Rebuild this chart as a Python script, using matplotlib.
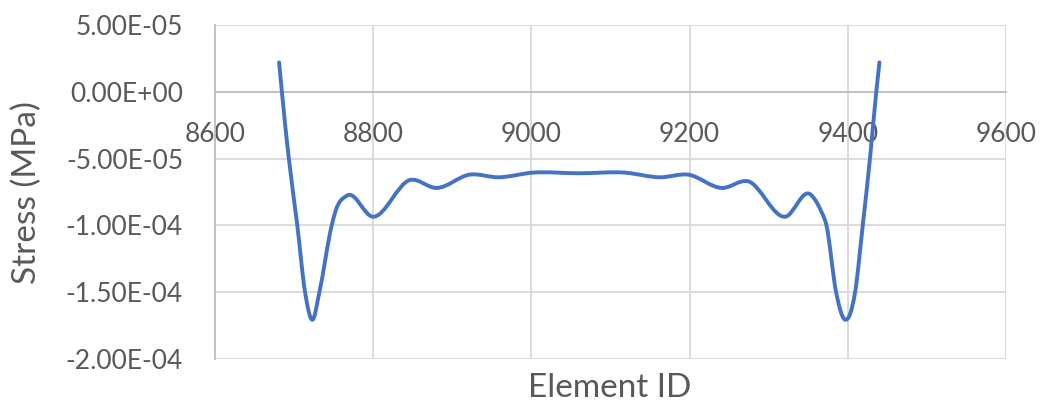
import numpy as np
import matplotlib
matplotlib.use("Agg")
import matplotlib.pyplot as plt
from matplotlib.path import Path
from matplotlib.patches import PathPatch

# values
element_id = [8681, 8684.5, 8693.3, 8704, 8713.8, 8723.5, 8731.9, 8747.5, 8752.5, 8766.5,
              8799.4, 8846.6, 8880, 8922, 8958, 9002, 9060, 9118, 9163, 9198,
              9241, 9274, 9321, 9353.2, 9366, 9373, 9385.2, 9396.6, 9409.2, 9418.9,
              9428, 9436, 9440]
stress = [2.2e-5, 0.0, -5.0e-5, -1.0e-4, -1.5e-4, -1.706e-4, -1.5e-4, -1.0e-4, -8.9e-5, -7.78e-5,
          -9.35e-5, -6.6e-5, -7.2e-5, -6.2e-5, -6.4e-5, -6.05e-5, -6.1e-5, -6.05e-5, -6.4e-5, -6.2e-5,
          -7.2e-5, -6.7e-5, -9.35e-5, -7.7e-5, -8.9e-5, -1.0e-4, -1.5e-4, -1.706e-4, -1.5e-4, -1.0e-4,
          -5.0e-5, 0.0, 2.2e-5]

x_ticks = [8600, 8800, 9000, 9200, 9400, 9600]
y_ticks = [5e-5, 0, -5e-5, -1e-4, -1.5e-4, -2e-4]
y_tick_labels = ['5.00E-05', '0.00E+00', '-5.00E-05', '-1.00E-04', '-1.50E-04', '-2.00E-04']

text_col = '#595959'
plt.rcParams['font.family'] = ['Lato', 'DejaVu Sans']

fig = plt.figure(figsize=(10.49, 4.05), dpi=100)
ax = fig.add_axes([0.205, 0.1136, 0.754, 0.8247])
ax.set_xlim(8600, 9600)
ax.set_ylim(-2e-4, 5e-5)


# smoothed line like Excel: cubic hermite (as bezier) through the points
def smooth_path(xs, ys):
    x = np.asarray(xs, float)
    y = np.asarray(ys, float)
    h = np.diff(x)
    s = np.diff(y) / h
    m = np.empty_like(x)
    m[0] = s[0]
    m[-1] = s[-1]
    m[1:-1] = (h[1:] * s[:-1] + h[:-1] * s[1:]) / (h[:-1] + h[1:])
    verts = [(x[0], y[0])]
    codes = [Path.MOVETO]
    for i in range(len(x) - 1):
        d = h[i] / 3.0
        verts += [(x[i] + d, y[i] + m[i] * d),
                  (x[i + 1] - d, y[i + 1] - m[i + 1] * d),
                  (x[i + 1], y[i + 1])]
        codes += [Path.CURVE4] * 3
    return Path(verts, codes)


patch = PathPatch(smooth_path(element_id, stress), facecolor='none',
                  edgecolor='#4472C4', lw=2.8, capstyle='round', joinstyle='round', zorder=3)
ax.add_patch(patch)

ax.set_xticks(x_ticks)
ax.set_yticks(y_ticks)
ax.set_yticklabels(y_tick_labels)
ax.grid(True, color='#d9d9d9', lw=1.3)
ax.set_axisbelow(True)

for s in ['top', 'right']:
    ax.spines[s].set_visible(False)
ax.spines['left'].set_color('#bfbfbf')
ax.spines['left'].set_linewidth(1.3)
ax.spines['bottom'].set_position(('data', 0))
ax.spines['bottom'].set_color('#bfbfbf')
ax.spines['bottom'].set_linewidth(1.3)

ax.tick_params(axis='both', length=0, labelsize=19, labelcolor=text_col)
ax.tick_params(axis='y', pad=23)
ax.tick_params(axis='x', pad=22)

fig.text(27 / 1049, 1 - 193 / 405, 'Stress (MPa)', fontsize=24, color=text_col,
         rotation=90, ha='center', va='center')
fig.text(0.581, 1 - 388 / 405, 'Element ID', fontsize=24, color=text_col,
         ha='center', va='center')

fig.savefig('out.png', dpi=100)
